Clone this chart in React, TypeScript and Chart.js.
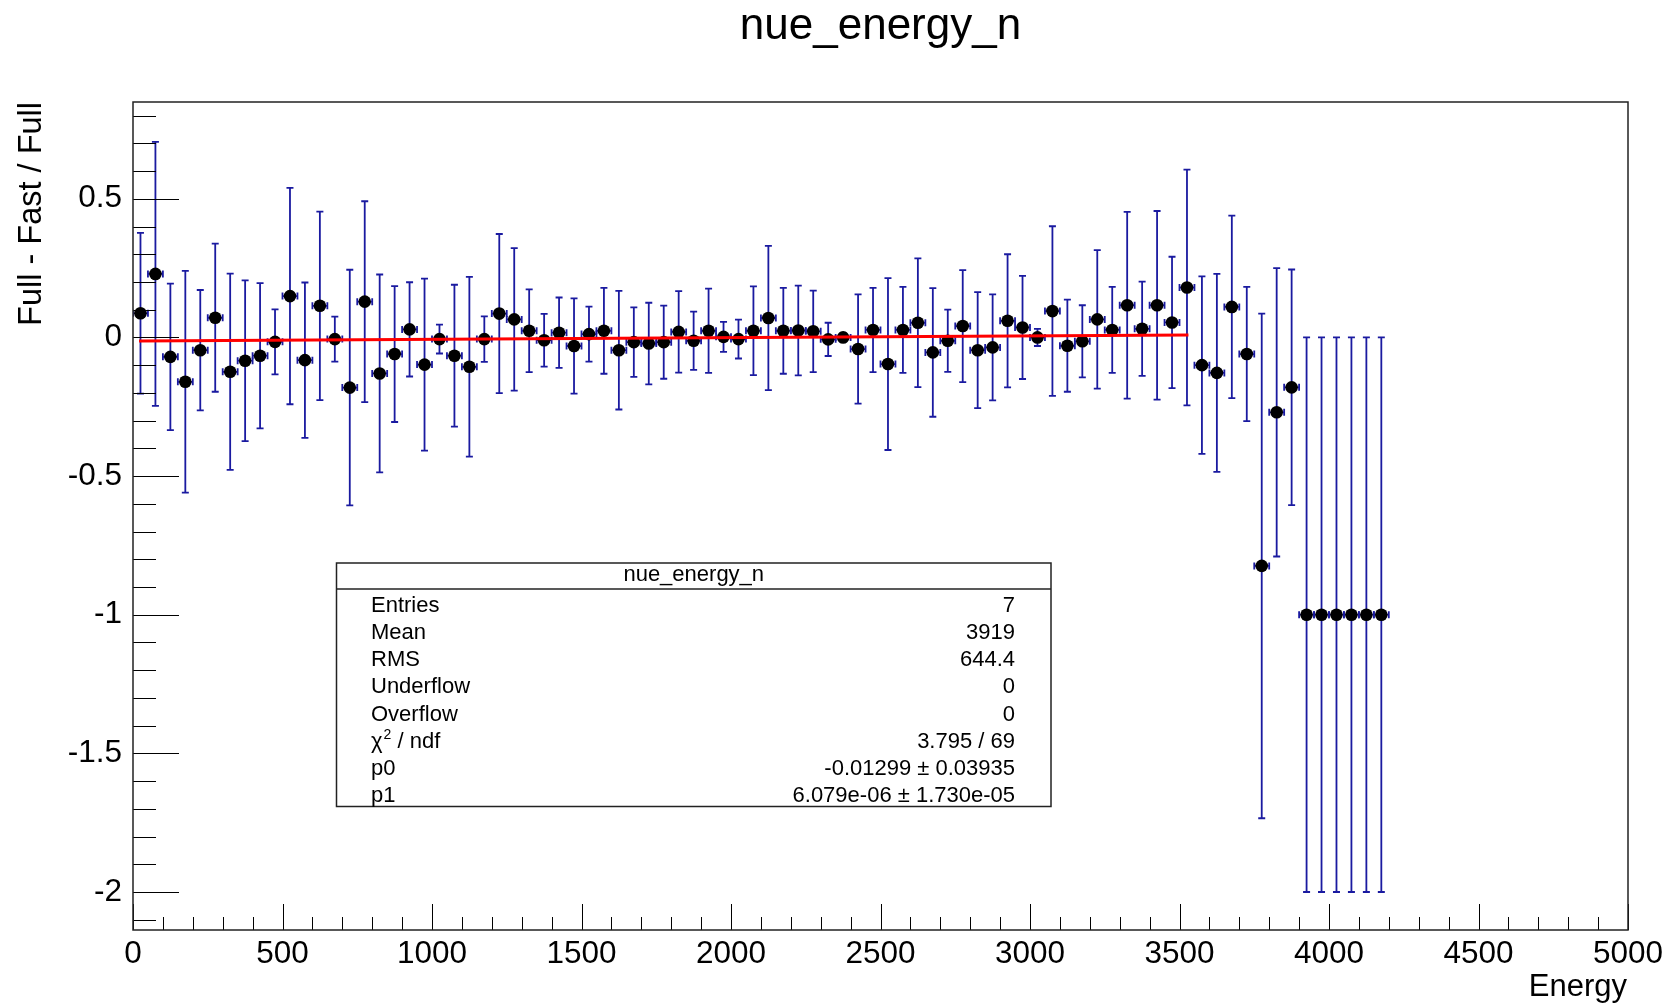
import React, { useEffect, useRef } from "react";
import { Chart, registerables } from "chart.js";

Chart.register(...registerables);

// ---------- data ----------
const ENERGY = [
  25, 75, 125, 175, 225, 275, 325, 375, 425, 475,
  525, 575, 625, 675, 725, 775, 825, 875, 925, 975,
  1025, 1075, 1125, 1175, 1225, 1275, 1325, 1375, 1425, 1475,
  1525, 1575, 1625, 1675, 1725, 1775, 1825, 1875, 1925, 1975,
  2025, 2075, 2125, 2175, 2225, 2275, 2325, 2375, 2425, 2475,
  2525, 2575, 2625, 2675, 2725, 2775, 2825, 2875, 2925, 2975,
  3025, 3075, 3125, 3175, 3225, 3275, 3325, 3375, 3425, 3475,
  3525, 3575, 3625, 3675, 3725, 3775, 3825, 3875, 3925, 3975,
  4025, 4075, 4125, 4175,
];

const RATIO = [
  0.087, 0.229, -0.07, -0.16, -0.046, 0.071, -0.124, -0.084, -0.066, -0.016,
  0.149, -0.082, 0.114, -0.006, -0.181, 0.129, -0.13, -0.06, 0.029, -0.098,
  -0.006, -0.066, -0.106, -0.006, 0.086, 0.065, 0.024, -0.01, 0.017, -0.031,
  0.012, 0.024, -0.046, -0.017, -0.022, -0.017, 0.02, -0.012, 0.024, 0.002,
  -0.006, 0.024, 0.07, 0.024, 0.025, 0.022, -0.007, 0.0, -0.042, 0.027,
  -0.096, 0.027, 0.053, -0.054, -0.012, 0.041, -0.046, -0.036, 0.06, 0.036,
  0.0, 0.095, -0.03, -0.014, 0.065, 0.027, 0.116, 0.031, 0.116, 0.054,
  0.18, -0.1, -0.128, 0.11, -0.06, -0.824, -0.27, -0.18, -1, -1,
  -1, -1, -1, -1,
];

const RATIO_ERR = [
  0.29, 0.476, 0.264, 0.4, 0.217, 0.267, 0.354, 0.29, 0.262, 0.117,
  0.39, 0.28, 0.34, 0.081, 0.425, 0.362, 0.357, 0.245, 0.17, 0.31,
  0.052, 0.256, 0.324, 0.082, 0.287, 0.257, 0.149, 0.095, 0.127, 0.172,
  0.099, 0.155, 0.214, 0.125, 0.147, 0.132, 0.147, 0.105, 0.152, 0.054,
  0.07, 0.16, 0.26, 0.155, 0.162, 0.147, 0.06, 0.015, 0.197, 0.152,
  0.31, 0.155, 0.232, 0.232, 0.112, 0.202, 0.209, 0.191, 0.24, 0.186,
  0.031, 0.306, 0.166, 0.13, 0.25, 0.155, 0.337, 0.17, 0.34, 0.237,
  0.425, 0.32, 0.357, 0.329, 0.242, 0.91, 0.52, 0.425, 1, 1,
  1, 1, 1, 1,
];

const BIN_HALF_WIDTH = 25;

const FIT_P0 = -0.01299;
const FIT_P1 = 6.079e-6;
const FIT_RANGE = [20, 3530];

const X_MIN = 0;
const X_MAX = 5000;
const Y_MIN = -2.137;
const Y_MAX = 0.849;

const X_MAJOR = [0, 500, 1000, 1500, 2000, 2500, 3000, 3500, 4000, 4500, 5000];
const Y_MAJOR = [-2, -1.5, -1, -0.5, 0, 0.5];
const X_MINOR_STEP = 100;
const Y_MINOR_STEP = 0.1;

const TITLE = "nue_energy_n";
const X_TITLE = "Energy";
const Y_TITLE = "Full - Fast / Full";

const STATS_TITLE = "nue_energy_n";
const STATS_LABELS = ["Entries", "Mean", "RMS", "Underflow", "Overflow", "CHI2", "p0", "p1"];
const STATS_VALUES = ["7", "3919", "644.4", "0", "0", "3.795 / 69", "-0.01299 \u00b1 0.03935", "6.079e-06 \u00b1 1.730e-05"];

// ---------- styles ----------
const FONT = "'Liberation Sans', Arial, Helvetica, sans-serif";
const ERR_COLOR = "#1a1aa0";
const FIT_COLOR = "#ff0000";

const rootStylePlugin = {
  id: "rootStyle",
  beforeDatasetsDraw(chart: any) {
    const { ctx, chartArea } = chart;
    const x = chart.scales.x;
    const y = chart.scales.y;
    ctx.save();
    ctx.beginPath();
    ctx.rect(chartArea.left, chartArea.top, chartArea.right - chartArea.left, chartArea.bottom - chartArea.top);
    ctx.clip();
    ctx.strokeStyle = ERR_COLOR;
    ctx.lineWidth = 1.8;
    for (let i = 0; i < ENERGY.length; i++) {
      const e = ENERGY[i];
      const v = RATIO[i];
      const er = RATIO_ERR[i];
      const px = x.getPixelForValue(e);
      const py = y.getPixelForValue(v);
      const pt = y.getPixelForValue(v + er);
      const pb = y.getPixelForValue(v - er);
      const pl = x.getPixelForValue(e - BIN_HALF_WIDTH);
      const pr = x.getPixelForValue(e + BIN_HALF_WIDTH);
      ctx.beginPath();
      ctx.moveTo(px, pt);
      ctx.lineTo(px, pb);
      ctx.moveTo(px - 3.5, pt);
      ctx.lineTo(px + 3.5, pt);
      ctx.moveTo(px - 3.5, pb);
      ctx.lineTo(px + 3.5, pb);
      ctx.moveTo(pl, py);
      ctx.lineTo(pr, py);
      ctx.moveTo(pl, py - 3.5);
      ctx.lineTo(pl, py + 3.5);
      ctx.moveTo(pr, py - 3.5);
      ctx.lineTo(pr, py + 3.5);
      ctx.stroke();
    }
    ctx.restore();
  },
  afterDraw(chart: any) {
    const { ctx, chartArea } = chart;
    const x = chart.scales.x;
    const y = chart.scales.y;
    const L = chartArea.left;
    const R = chartArea.right;
    const T = chartArea.top;
    const B = chartArea.bottom;
    ctx.save();

    // ticks
    ctx.strokeStyle = "#000";
    ctx.lineWidth = 1;
    ctx.beginPath();
    const nx = Math.round((X_MAX - X_MIN) / X_MINOR_STEP);
    for (let k = 0; k <= nx; k++) {
      const val = X_MIN + k * X_MINOR_STEP;
      const isMajor = X_MAJOR.some((m) => Math.abs(m - val) < 1e-6);
      const px = Math.round(x.getPixelForValue(val)) + 0.5;
      ctx.moveTo(px, B);
      ctx.lineTo(px, B - (isMajor ? 26 : 13));
    }
    const yStart = Math.ceil(Y_MIN / Y_MINOR_STEP - 1e-6);
    const yEnd = Math.floor(Y_MAX / Y_MINOR_STEP + 1e-6);
    for (let k = yStart; k <= yEnd; k++) {
      const val = k * Y_MINOR_STEP;
      const isMajor = Y_MAJOR.some((m) => Math.abs(m - val) < 1e-6);
      const py = Math.round(y.getPixelForValue(val)) + 0.5;
      ctx.moveTo(L, py);
      ctx.lineTo(L + (isMajor ? 46 : 23), py);
    }
    ctx.stroke();

    // frame
    ctx.strokeStyle = "#222";
    ctx.lineWidth = 1.5;
    ctx.strokeRect(L, T, R - L, B - T);

    // title
    ctx.fillStyle = "#000";
    ctx.font = `44px ${FONT}`;
    ctx.textAlign = "center";
    ctx.textBaseline = "alphabetic";
    ctx.fillText(TITLE, (L + R) / 2, 39);

    // x title
    ctx.font = `31px ${FONT}`;
    ctx.textAlign = "right";
    ctx.fillText(X_TITLE, R - 1, 996);

    // y title
    ctx.save();
    ctx.font = `32.5px ${FONT}`;
    ctx.translate(41, T);
    ctx.rotate(-Math.PI / 2);
    ctx.textAlign = "right";
    ctx.fillText(Y_TITLE, 0, 0);
    ctx.restore();

    // stats box
    const bx0 = 336.5;
    const bx1 = 1051;
    const by0 = 563;
    const by1 = 806.5;
    const sep = 589;
    ctx.fillStyle = "#fff";
    ctx.fillRect(bx0, by0, bx1 - bx0, by1 - by0);
    ctx.strokeStyle = "#222";
    ctx.lineWidth = 1.5;
    ctx.strokeRect(bx0, by0, bx1 - bx0, by1 - by0);
    ctx.beginPath();
    ctx.moveTo(bx0, sep);
    ctx.lineTo(bx1, sep);
    ctx.stroke();

    ctx.fillStyle = "#000";
    ctx.font = `22px ${FONT}`;
    ctx.textAlign = "center";
    ctx.fillText(STATS_TITLE, (bx0 + bx1) / 2, 581);

    for (let i = 0; i < STATS_LABELS.length; i++) {
      const base = 611.7 + i * 27.2;
      ctx.font = `22px ${FONT}`;
      ctx.textAlign = "left";
      if (STATS_LABELS[i] === "CHI2") {
        const chi = "\u03c7";
        ctx.fillText(chi, 371, base);
        const w1 = ctx.measureText(chi).width;
        ctx.font = `14px ${FONT}`;
        ctx.fillText("2", 371 + w1 + 1, base - 9);
        const w2 = ctx.measureText("2").width;
        ctx.font = `22px ${FONT}`;
        ctx.fillText(" / ndf", 371 + w1 + 1 + w2, base);
      } else {
        ctx.fillText(STATS_LABELS[i], 371, base);
      }
      ctx.textAlign = "right";
      ctx.fillText(STATS_VALUES[i], 1015, base);
    }

    ctx.restore();
  },
};

export default function App() {
  const canvasRef = useRef<HTMLCanvasElement | null>(null);

  useEffect(() => {
    const canvas = canvasRef.current;
    if (!canvas) return;
    const points = ENERGY.map((e, i) => ({ x: e, y: RATIO[i] }));
    const fitPoints = FIT_RANGE.map((e) => ({ x: e, y: FIT_P0 + FIT_P1 * e }));

    const chart = new Chart(canvas, {
      type: "scatter",
      data: {
        datasets: [
          {
            type: "line",
            label: "fit",
            data: fitPoints,
            borderColor: FIT_COLOR,
            borderWidth: 3,
            pointRadius: 0,
            showLine: true,
            fill: false,
          } as any,
          {
            label: "ratio",
            data: points,
            backgroundColor: "#000",
            borderColor: "#000",
            borderWidth: 0,
            pointRadius: 6.3,
            pointStyle: "circle",
          },
        ],
      },
      options: {
        responsive: false,
        animation: false,
        devicePixelRatio: 1,
        layout: { padding: { top: 102, right: 47, bottom: 0, left: 0 } },
        plugins: {
          legend: { display: false },
          title: { display: false },
          tooltip: { enabled: false },
        },
        scales: {
          x: {
            type: "linear",
            min: X_MIN,
            max: X_MAX,
            grid: { display: false, drawTicks: false },
            border: { display: false },
            afterBuildTicks: (scale: any) => {
              scale.ticks = X_MAJOR.map((v) => ({ value: v }));
            },
            afterFit: (scale: any) => {
              scale.height = 74;
            },
            ticks: {
              autoSkip: false,
              maxRotation: 0,
              minRotation: 0,
              padding: 5,
              color: "#000",
              font: { family: FONT, size: 31.5 },
              callback: (v: any) => String(v),
            },
          },
          y: {
            type: "linear",
            min: Y_MIN,
            max: Y_MAX,
            grid: { display: false, drawTicks: false },
            border: { display: false },
            afterBuildTicks: (scale: any) => {
              scale.ticks = Y_MAJOR.map((v) => ({ value: v }));
            },
            afterFit: (scale: any) => {
              scale.width = 133;
            },
            ticks: {
              autoSkip: false,
              padding: 11,
              color: "#000",
              font: { family: FONT, size: 31.5 },
              callback: (v: any) => String(v),
            },
          },
        },
      },
      plugins: [rootStylePlugin],
    });

    return () => {
      chart.destroy();
    };
  }, []);

  return (
    <div style={{ position: "absolute", left: 0, top: 0, width: 1675, height: 1004, background: "#fff" }}>
      <canvas ref={canvasRef} width={1675} height={1004} style={{ display: "block" }} />
    </div>
  );
}
